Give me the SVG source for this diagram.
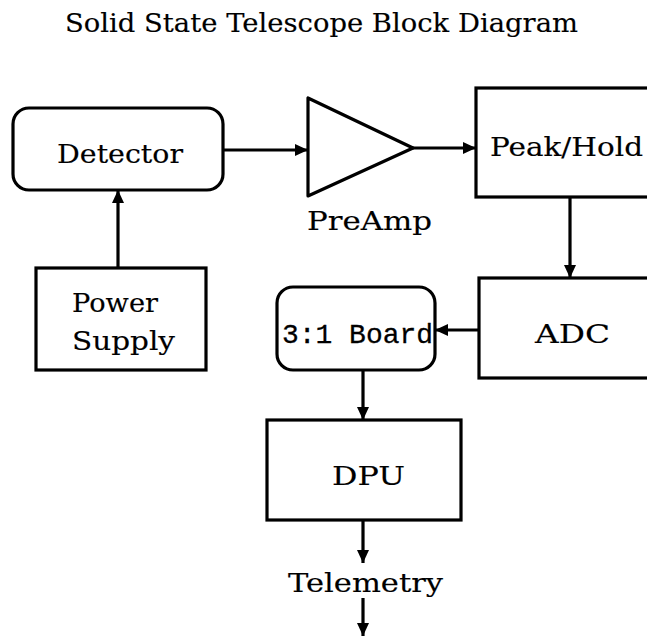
<svg xmlns="http://www.w3.org/2000/svg" width="647" height="636" viewBox="0 0 647 636">
<defs>
<marker id="ah" markerUnits="userSpaceOnUse" markerWidth="14" markerHeight="12" refX="13" refY="6" orient="auto">
<path d="M0,0 L13,6 L0,12 z" fill="#000"/>
</marker>
<style>
.box{fill:#fff;stroke:#000;stroke-width:3.2}
.t{font-family:"DejaVu Serif","Liberation Serif",serif;font-size:26px;fill:#000;stroke:#000;stroke-width:0.15}
.m{font-family:"Liberation Mono","DejaVu Sans Mono",monospace;font-size:28px;fill:#000;stroke:#000;stroke-width:0.3}
.c{fill:none;stroke:#000;stroke-width:3.2}
</style>
</defs>
<rect width="647" height="636" fill="#fff"/>
<text class="t" x="65" y="32" font-size="28" textLength="513" lengthAdjust="spacingAndGlyphs">Solid State Telescope Block Diagram</text>
<g id="detector">
<rect class="box" x="13" y="108" width="210" height="82" rx="16"/>
<text class="t" x="57" y="163" textLength="126" lengthAdjust="spacingAndGlyphs">Detector</text>
</g>
<g id="power">
<rect class="box" x="36" y="268" width="170" height="102"/>
<text class="t" x="72" y="312" textLength="86" lengthAdjust="spacingAndGlyphs">Power</text>
<text class="t" x="72" y="350" textLength="103" lengthAdjust="spacingAndGlyphs">Supply</text>
</g>
<g id="preamp">
<polygon class="box" points="308,98 308,196 413,148" stroke-linejoin="round"/>
<text class="t" x="307" y="230" textLength="125" lengthAdjust="spacingAndGlyphs">PreAmp</text>
</g>
<g id="peakhold">
<rect class="box" x="476" y="88" width="200" height="109"/>
<text class="t" x="490" y="156" textLength="153" lengthAdjust="spacingAndGlyphs">Peak/Hold</text>
</g>
<g id="adc">
<rect class="box" x="479" y="278" width="200" height="100"/>
<text class="t" x="535" y="343" textLength="75" lengthAdjust="spacingAndGlyphs">ADC</text>
</g>
<g id="board">
<rect class="box" x="277" y="287" width="158" height="83" rx="16"/>
<text class="m" x="282" y="343" textLength="151" lengthAdjust="spacingAndGlyphs">3:1 Board</text>
</g>
<g id="dpu">
<rect class="box" x="267" y="420" width="194" height="100"/>
<text class="t" x="332" y="485" textLength="73" lengthAdjust="spacingAndGlyphs">DPU</text>
</g>
<g id="telemetry">
<text class="t" x="288" y="592" textLength="155" lengthAdjust="spacingAndGlyphs">Telemetry</text>
</g>
<g id="connectors">
<line class="c" x1="223" y1="150" x2="308" y2="150" marker-end="url(#ah)"/>
<line class="c" x1="413" y1="148" x2="476" y2="148" marker-end="url(#ah)"/>
<line class="c" x1="118" y1="268" x2="118" y2="190" marker-end="url(#ah)"/>
<line class="c" x1="570" y1="197" x2="570" y2="278" marker-end="url(#ah)"/>
<line class="c" x1="479" y1="330" x2="435" y2="330" marker-end="url(#ah)"/>
<line class="c" x1="363" y1="370" x2="363" y2="420" marker-end="url(#ah)"/>
<line class="c" x1="363" y1="520" x2="363" y2="563" marker-end="url(#ah)"/>
<line class="c" x1="363" y1="598" x2="363" y2="636" marker-end="url(#ah)"/>
</g>
</svg>
